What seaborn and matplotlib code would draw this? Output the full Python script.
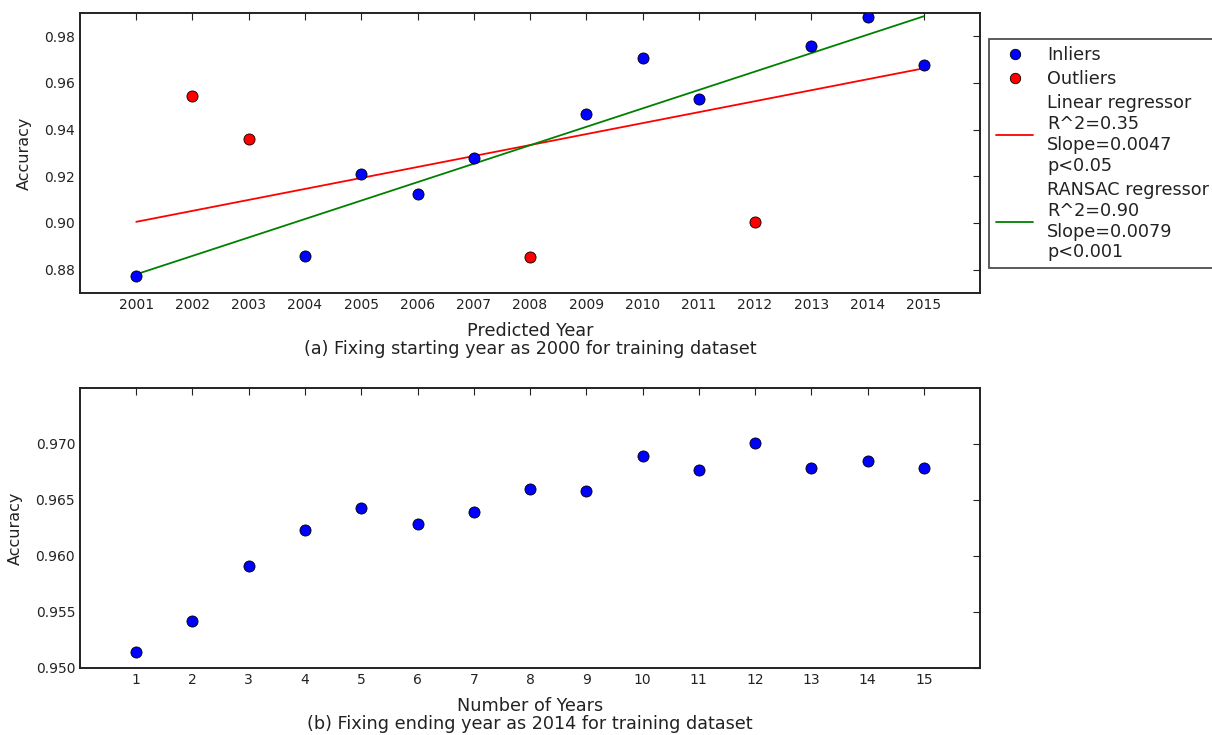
import numpy as np
import pandas as pd
import matplotlib
matplotlib.use("Agg")
import matplotlib.pyplot as plt
from matplotlib.lines import Line2D
import seaborn as sns

# Panel (a): accuracy per predicted year, training from 2000
years = [2001, 2002, 2003, 2004, 2005, 2006, 2007, 2008,
         2009, 2010, 2011, 2012, 2013, 2014, 2015]
accuracy_a = [0.8774, 0.9544, 0.9360, 0.8860, 0.9210, 0.9125, 0.9278, 0.8855,
              0.9467, 0.9708, 0.9533, 0.9005, 0.9757, 0.9885, 0.9678]
is_outlier = [False, True, True, False, False, False, False, True,
              False, False, False, True, False, False, False]

# Regression fits (value at first year and slope per year)
linear_start, linear_slope = 0.9005, 0.0047
ransac_start, ransac_slope = 0.8780, 0.0079
linear_label = "Linear regressor\nR^2=0.35\nSlope=0.0047\np<0.05"
ransac_label = "RANSAC regressor\nR^2=0.90\nSlope=0.0079\np<0.001"

# Panel (b): accuracy vs. number of training years, ending at 2014
n_years = list(range(1, 16))
accuracy_b = [0.9514, 0.9542, 0.9591, 0.9623, 0.9643, 0.9629, 0.9639, 0.9660,
              0.9658, 0.9689, 0.9677, 0.9701, 0.9679, 0.9685, 0.9679]

sns.set_style("white")
plt.rcParams.update({
    "font.family": ["DejaVu Sans"],
    "xtick.direction": "in", "ytick.direction": "in",
    "xtick.top": True, "ytick.right": True,
    "xtick.major.size": 5, "ytick.major.size": 5,
    "xtick.major.width": 0.8, "ytick.major.width": 0.8,
    "xtick.labelsize": 10, "ytick.labelsize": 10,
    "axes.linewidth": 1.4, "axes.edgecolor": "#222222",
    "xtick.color": "#222222", "ytick.color": "#222222",
    "text.color": "#222222", "axes.labelcolor": "#222222",
})

LABEL_FS = 12.7
fig = plt.figure(figsize=(12.12, 7.35), dpi=100)
ax1 = fig.add_axes([0.066, 0.6014, 0.7426, 0.3809])
ax2 = fig.add_axes([0.066, 0.0912, 0.7426, 0.3809])

df_a = pd.DataFrame({"year": years, "acc": accuracy_a, "out": is_outlier})
x_fit = np.array([years[0], years[-1]], dtype=float)
fit_df = pd.DataFrame({
    "year": x_fit,
    "linear": linear_start + linear_slope * (x_fit - years[0]),
    "ransac": ransac_start + ransac_slope * (x_fit - years[0]),
})

sns.lineplot(data=fit_df, x="year", y="linear", ax=ax1, color="red", lw=1.3)
sns.lineplot(data=fit_df, x="year", y="ransac", ax=ax1, color="green", lw=1.3)
sns.scatterplot(data=df_a[~df_a["out"]], x="year", y="acc", ax=ax1,
                color="blue", edgecolor="black", linewidth=0.6, s=64, zorder=3)
sns.scatterplot(data=df_a[df_a["out"]], x="year", y="acc", ax=ax1,
                color="red", edgecolor="black", linewidth=0.6, s=64, zorder=3)

ax1.set_xlim(2000, 2016)
ax1.set_ylim(0.87, 0.99)
ax1.set_xticks(years)
yt1 = [0.88, 0.90, 0.92, 0.94, 0.96, 0.98]
ax1.set_yticks(yt1)
ax1.set_yticklabels([f"{v:.2f}" for v in yt1])
ax1.set_ylabel("Accuracy", fontsize=11.5, labelpad=9)
ax1.set_xlabel("Predicted Year\n(a) Fixing starting year as 2000 for training dataset",
               fontsize=LABEL_FS, linespacing=1.0, labelpad=7)

handles = [
    Line2D([], [], ls="none", marker="o", color="blue", mec="black", mew=0.6, ms=7.5),
    Line2D([], [], ls="none", marker="o", color="red", mec="black", mew=0.6, ms=7.5),
    Line2D([], [], color="red", lw=1.3),
    Line2D([], [], color="green", lw=1.3),
]
leg = ax1.legend(handles, ["Inliers", "Outliers", linear_label, ransac_label],
                 loc="upper left", bbox_to_anchor=(1.01, 0.907), fontsize=LABEL_FS,
                 frameon=True, fancybox=False, edgecolor="#222222",
                 handlelength=2.1, handletextpad=0.8, labelspacing=0.35,
                 borderpad=0.4, borderaxespad=0)
leg.get_frame().set_linewidth(1.3)

df_b = pd.DataFrame({"n": n_years, "acc": accuracy_b})
sns.scatterplot(data=df_b, x="n", y="acc", ax=ax2, color="blue",
                edgecolor="black", linewidth=0.6, s=64, zorder=3)
ax2.set_xlim(0, 16)
ax2.set_ylim(0.950, 0.975)
ax2.set_xticks(n_years)
yt2 = [0.950, 0.955, 0.960, 0.965, 0.970]
ax2.set_yticks(yt2)
ax2.set_yticklabels([f"{v:.3f}" for v in yt2])
ax2.set_ylabel("Accuracy", fontsize=11.5, labelpad=9)
ax2.set_xlabel("Number of Years\n(b) Fixing ending year as 2014 for training dataset",
               fontsize=LABEL_FS, linespacing=1.0, labelpad=7)

for ax in (ax1, ax2):
    for s in ax.spines.values():
        s.set_visible(True)

fig.savefig("out.png", dpi=100)
